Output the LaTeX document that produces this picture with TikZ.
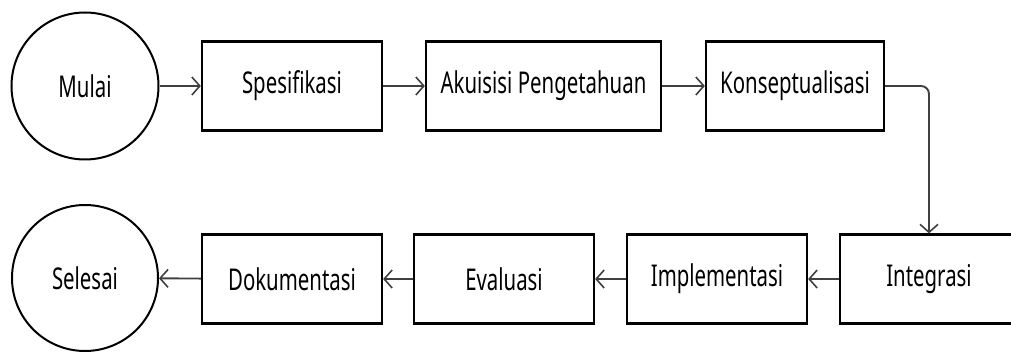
\documentclass[tikz,border=0pt]{standalone}
\usepackage{fontspec}
\setmainfont[FakeStretch=0.68]{Noto Sans}
\usetikzlibrary{arrows.meta}
\begin{document}
\begin{tikzpicture}[x=1pt,y=-1pt,
  box/.style={draw=black,line width=2.2pt,rectangle,minimum height=89pt,inner sep=0pt,text=black,font=\fontsize{30}{34}\selectfont},
  term/.style={draw=black,line width=2pt,circle,inner sep=0pt,text=black,font=\fontsize{30}{34}\selectfont},
  flow/.style={draw=black!75,line width=1.9pt,-{Straight Barb[length=8pt,width=18pt,line width=1.6pt]}}]
\useasboundingbox (0,0) rectangle (1011,352);
\clip (0,0) rectangle (1011,352);
\node[term,minimum size=147pt] (mulai) at (85,86) {Mulai};
\node[box,minimum width=180pt] (spes) at (292,86) {Spesifikasi};
\node[box,minimum width=235pt] (akui) at (543.5,86) {Akuisisi Pengetahuan};
\node[box,minimum width=178pt] (konsep) at (795,86) {Konseptualisasi};
\node[box,minimum width=178pt] (integ) at (929,279) {Integrasi};
\node[box,minimum width=180pt] (impl) at (717,279) {Implementasi};
\node[box,minimum width=180pt] (eval) at (504,279) {Evaluasi};
\node[box,minimum width=180pt] (doku) at (292,279) {Dokumentasi};
\node[term,minimum size=146pt] (selesai) at (85,278) {Selesai};
\draw[flow] (mulai) -- (spes);
\draw[flow] (spes) -- (akui);
\draw[flow] (akui) -- (konsep);
\draw[flow,rounded corners=8pt] (konsep.east) -| (integ.north);
\draw[flow] (integ) -- (impl);
\draw[flow] (impl) -- (eval);
\draw[flow] (eval) -- (doku);
\draw[flow] (doku) -- (selesai);
\end{tikzpicture}
\end{document}
